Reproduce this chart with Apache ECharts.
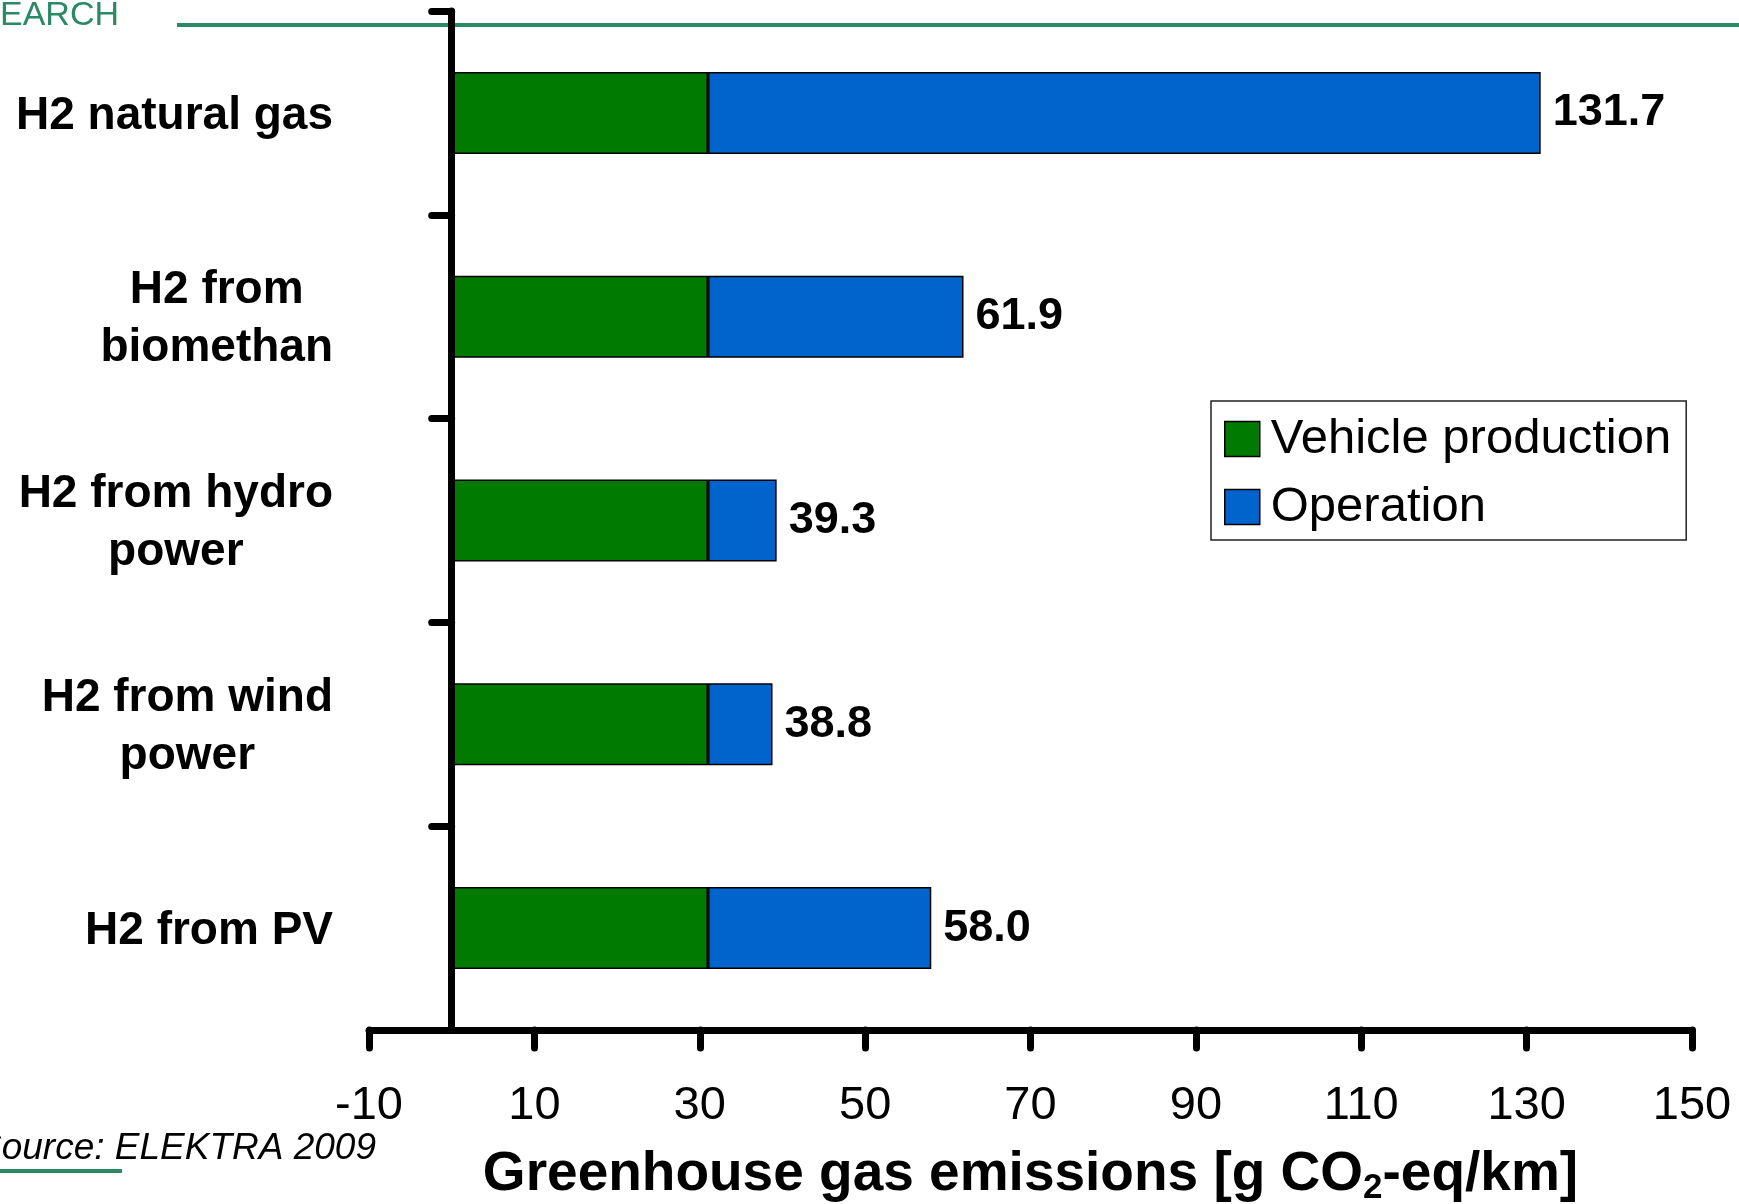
<!DOCTYPE html>
<html>
<head>
<meta charset="utf-8">
<script src="https://cdn.jsdelivr.net/npm/echarts@6/dist/echarts.min.js"></script>
<style>
  html, body { margin: 0; padding: 0; background: #fff; }
  #chart { width: 1739px; height: 1204px; }
</style>
</head>
<body>
<div id="chart"></div>
<script>
// Greenhouse gas emissions of hydrogen fuel cell vehicles by hydrogen source
const categories = ['H2 natural gas', 'H2 from\nbiomethan', 'H2 from hydro\npower', 'H2 from wind\npower', 'H2 from PV'];
const seriesNames = ['Vehicle production', 'Operation'];
const vehicleProduction = [31.0, 31.0, 31.0, 31.0, 31.0];
const operation = [100.7, 30.9, 8.3, 7.8, 27.0];
const sourceText = 'Source: ELEKTRA 2009';
const headerText = 'EARCH';

const FONT = '"Liberation Sans", Arial, Helvetica, sans-serif';
const GREEN = '#007a00';
const BLUE = '#0064cc';
const DECO = '#2a8a64';

const chart = echarts.init(document.getElementById('chart'), null, { renderer: 'canvas' });

const option = {
  backgroundColor: '#ffffff',
  animation: false,
  grid: { left: 369, right: 47, top: 11, bottom: 174, outerBoundsMode: 'none', containLabel: false },
  legend: {
    data: seriesNames,
    orient: 'vertical',
    left: 1211,
    top: 401,
    icon: 'rect',
    itemWidth: 35,
    itemHeight: 35,
    itemGap: 18,
    padding: [13, 15, 8, 13],
    borderColor: '#222',
    borderWidth: 1.5,
    itemStyle: { borderColor: '#000', borderWidth: 1.5 },
    textStyle: { fontFamily: FONT, fontSize: 49, lineHeight: 50, color: '#000', padding: [0, 0, 0, 6] }
  },
  xAxis: {
    type: 'value',
    min: -10,
    max: 150,
    interval: 20,
    z: 5,
    splitLine: { show: false },
    axisLine: { show: true, lineStyle: { color: '#000', width: 7, cap: 'round' } },
    axisTick: { show: true, length: 18, lineStyle: { color: '#000', width: 7, cap: 'round' } },
    axisLabel: { fontFamily: FONT, fontSize: 47, color: '#000', margin: 53 },
    name: '{b|Greenhouse gas emissions [g CO}{s|2}{b|-eq/km]}',
    nameLocation: 'middle',
    nameGap: 114,
    nameTextStyle: {
      rich: {
        b: { fontFamily: FONT, fontSize: 55, fontWeight: 'bold', color: '#000', lineHeight: 62 },
        s: { fontFamily: FONT, fontSize: 35, fontWeight: 'bold', color: '#000', lineHeight: 30, verticalAlign: 'bottom' }
      }
    }
  },
  yAxis: {
    type: 'category',
    data: categories,
    inverse: true,
    z: 5,
    axisLine: { show: true, onZero: true, lineStyle: { color: '#000', width: 7, cap: 'round' } },
    axisTick: { show: true, length: 20, lineStyle: { color: '#000', width: 7, cap: 'round' } },
    axisLabel: {
      margin: 36,
      align: 'right',
      formatter: function (v) { return '{c|' + v + '}'; },
      rich: {
        c: { fontFamily: FONT, fontSize: 46, fontWeight: 'bold', color: '#000', lineHeight: 58, align: 'center', padding: [6, 0, 0, 0] }
      }
    }
  },
  series: [
    {
      name: seriesNames[0],
      type: 'bar',
      stack: 'total',
      barWidth: 82,
      data: vehicleProduction,
      itemStyle: { color: GREEN, borderColor: '#000', borderWidth: 1.5 }
    },
    {
      name: seriesNames[1],
      type: 'bar',
      stack: 'total',
      barWidth: 82,
      data: operation,
      itemStyle: { color: BLUE, borderColor: '#000', borderWidth: 1.5 },
      label: {
        show: true,
        position: 'right',
        distance: 12,
        fontFamily: FONT,
        fontSize: 45,
        fontWeight: 'bold',
        color: '#000',
        padding: [6, 0, 0, 0],
        formatter: function (p) {
          return (vehicleProduction[p.dataIndex] + operation[p.dataIndex]).toFixed(1);
        }
      }
    }
  ],
  graphic: [
    {
      type: 'text', left: 0, top: -1, z: 0,
      style: { text: headerText, fontFamily: FONT, fontSize: 34, fill: DECO }
    },
    {
      type: 'line', z: 0,
      shape: { x1: 177, y1: 25, x2: 1739, y2: 25 },
      style: { stroke: DECO, lineWidth: 4 }
    },
    {
      type: 'text', x: -23, y: 1130, z: 0,
      style: { text: sourceText, fontFamily: FONT, fontSize: 37, fontStyle: 'italic', fill: '#000' }
    },
    {
      type: 'line', z: 0,
      shape: { x1: 0, y1: 1171, x2: 122, y2: 1171 },
      style: { stroke: DECO, lineWidth: 4 }
    }
  ]
};

chart.setOption(option);
</script>
</body>
</html>
